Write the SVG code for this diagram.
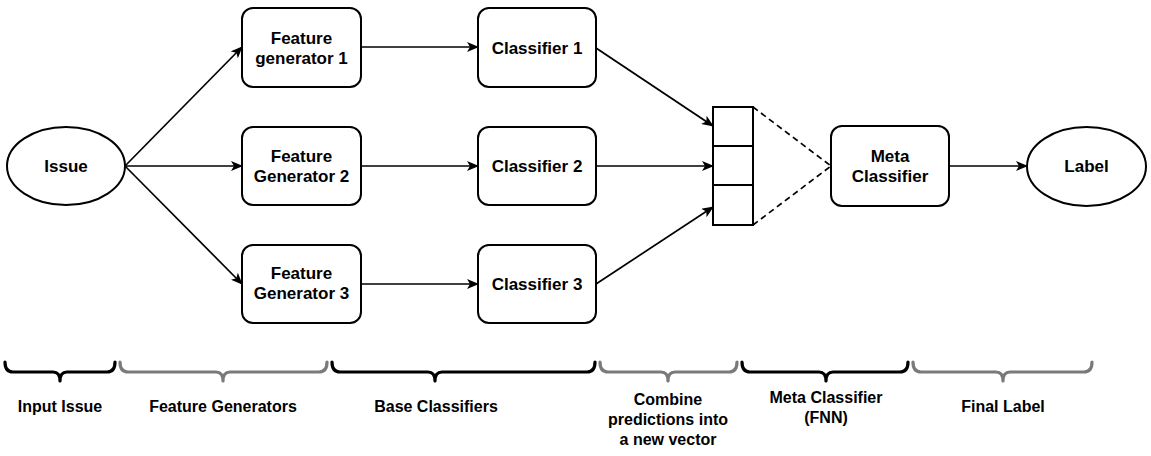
<svg xmlns="http://www.w3.org/2000/svg" width="1151" height="456" viewBox="0 0 1151 456">
<defs>
<style>
.node{fill:#fff;stroke:#000;stroke-width:2}
.t{font-family:"Liberation Sans",Arial,Helvetica,sans-serif;font-weight:bold;font-size:17px;text-anchor:middle;fill:#000}
.b{font-family:"Liberation Sans",Arial,Helvetica,sans-serif;font-weight:bold;font-size:16px;text-anchor:middle;fill:#000}
.e{fill:none;stroke:#000;stroke-width:1.7;marker-end:url(#arr)}
.d{fill:none;stroke:#000;stroke-width:1.7;stroke-dasharray:6 4}
.br{fill:none;stroke-width:3.2;stroke-linejoin:round;stroke-linecap:round}
.bk{stroke:#000}
.gr{stroke:#7a7a7a}
</style>
<marker id="arr" markerUnits="userSpaceOnUse" markerWidth="12" markerHeight="10" refX="11" refY="5" orient="auto" viewBox="0 0 12 10">
<path d="M0,0 L12,5 L0,10 L3,5 z" fill="#000"/>
</marker>
</defs>
<rect width="1151" height="456" fill="#fff"/>

<g id="connectors">
<path class="e" d="M125,166 L242,47"/>
<path class="e" d="M125,166 L242,166"/>
<path class="e" d="M125,166 L242,284"/>
<path class="e" d="M361,47 L478,47"/>
<path class="e" d="M361,166 L478,166"/>
<path class="e" d="M361,284 L478,284"/>
<path class="e" d="M596,48 L713,126"/>
<path class="e" d="M596,166 L713,166"/>
<path class="e" d="M596,284 L713,207"/>
<path class="d" d="M753,107 L831,166"/>
<path class="d" d="M753,225 L831,166"/>
<path class="e" d="M949,166 L1027,166"/>
</g>

<g id="issue">
<ellipse class="node" cx="66" cy="166" rx="59" ry="39"/>
<text class="t" x="66" y="172">Issue</text>
</g>
<g id="fg1">
<rect class="node" x="242" y="8" width="119" height="79" rx="11"/>
<text class="t" x="301.5" y="44">Feature</text>
<text class="t" x="301.5" y="64">generator 1</text>
</g>
<g id="fg2">
<rect class="node" x="242" y="127" width="119" height="78" rx="11"/>
<text class="t" x="301.5" y="162">Feature</text>
<text class="t" x="301.5" y="182">Generator 2</text>
</g>
<g id="fg3">
<rect class="node" x="242" y="245" width="119" height="78" rx="11"/>
<text class="t" x="301.5" y="279">Feature</text>
<text class="t" x="301.5" y="299">Generator 3</text>
</g>
<g id="c1">
<rect class="node" x="478" y="8" width="118" height="79" rx="11"/>
<text class="t" x="537" y="54">Classifier 1</text>
</g>
<g id="c2">
<rect class="node" x="478" y="127" width="118" height="78" rx="11"/>
<text class="t" x="537" y="172">Classifier 2</text>
</g>
<g id="c3">
<rect class="node" x="478" y="245" width="118" height="78" rx="11"/>
<text class="t" x="537" y="290">Classifier 3</text>
</g>
<g id="vector">
<rect class="node" x="713" y="107" width="40" height="39"/>
<rect class="node" x="713" y="146" width="40" height="39"/>
<rect class="node" x="713" y="185" width="40" height="40"/>
</g>
<g id="meta">
<rect class="node" x="831" y="126" width="118" height="80" rx="11"/>
<text class="t" x="890" y="162">Meta</text>
<text class="t" x="890" y="182">Classifier</text>
</g>
<g id="label">
<ellipse class="node" cx="1086.5" cy="166.5" rx="59.5" ry="39.5"/>
<text class="t" x="1086.5" y="172">Label</text>
</g>

<g id="braces">
<path class="br bk" d="M5,362 Q5,372 13,372 L53,372 Q60,372 60,381 Q60,372 67,372 L107,372 Q115,372 115,362"/>
<path class="br gr" d="M120,362 Q120,372 128,372 L216,372 Q223,372 223,381 Q223,372 230,372 L319,372 Q327,372 327,362"/>
<path class="br bk" d="M332,362 Q332,372 340,372 L428,372 Q435,372 435,381 Q435,372 442,372 L587,372 Q595,372 595,362"/>
<path class="br gr" d="M600,362 Q600,372 608,372 L661,372 Q668,372 668,381 Q668,372 675,372 L729,372 Q737,372 737,362"/>
<path class="br bk" d="M742,362 Q742,372 750,372 L819,372 Q826,372 826,381 Q826,372 833,372 L900,372 Q908,372 908,362"/>
<path class="br gr" d="M913,362 Q913,372 921,372 L996,372 Q1003,372 1003,381 Q1003,372 1010,372 L1084,372 Q1092,372 1092,362"/>
</g>

<g id="bottom-labels">
<text class="b" x="60" y="412">Input Issue</text>
<text class="b" x="223" y="412">Feature Generators</text>
<text class="b" x="436" y="412">Base Classifiers</text>
<text class="b" x="668" y="405">Combine</text>
<text class="b" x="668" y="425">predictions into</text>
<text class="b" x="668" y="445">a new vector</text>
<text class="b" x="826" y="403">Meta Classifier</text>
<text class="b" x="826" y="423">(FNN)</text>
<text class="b" x="1003" y="412">Final Label</text>
</g>
</svg>
